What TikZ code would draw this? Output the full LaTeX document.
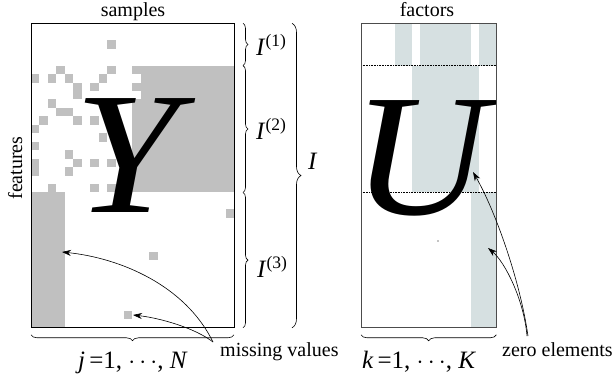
\documentclass[tikz,border=0pt]{standalone}
\usepackage{fontspec}
\setmainfont{Liberation Serif}
\usetikzlibrary{decorations.pathreplacing,arrows.meta}
\definecolor{missgray}{RGB}{192,192,192}
\definecolor{zeroblue}{RGB}{214,224,225}
\tikzset{
  misscell/.style={fill=missgray},
  zerocell/.style={fill=zeroblue},
  bigletter/.style={font=\fontsize{174}{174}\selectfont\itshape, inner sep=0pt, xscale=1.08},
  txt/.style={font=\fontsize{20}{24}\selectfont, inner sep=0pt},
  idxtxt/.style={font=\fontsize{25}{30}\selectfont, inner sep=0pt},
  curly/.style={decorate, decoration={brace, amplitude=#1}, line width=0.6pt},
  curly/.default=5pt,
  pointer/.style={-{Stealth[length=9pt,width=6pt]}, line width=0.6pt},
}

\begin{document}
\begin{tikzpicture}[x=1pt, y=-1pt]
\useasboundingbox (0,0) rectangle (616,379);

% data matrix Y with missing entries
\begin{scope}[shift={(31,23.3)}, x=8.458pt, y=-8.458pt]
\fill[misscell] (13,5) rectangle (24,20);
\fill[misscell] (0,20) rectangle (4,36);
\foreach \c/\r in {9/2, 3/5, 9/5, 12/5, 0/6, 2/6, 4/6, 8/6, 5/7, 7/7, 12/7,
    5/8, 2/9, 12/9, 3/10, 4/10, 12/10, 1/11, 5/11, 7/11, 12/11, 0/12, 12/12,
    8/13, 12/13, 0/14, 12/14, 4/15, 12/15, 0/16, 5/16, 7/16, 9/16, 12/16,
    0/17, 4/17, 12/17, 12/18, 2/19, 7/19, 9/19, 12/19, 23/22, 14/27, 11/34}
  \fill[misscell] (\c,\r) rectangle ++(1,1);
\coordinate (Ytl) at (0,0);
\coordinate (Ytr) at (24,0);
\coordinate (Ybl) at (0,36);
\coordinate (Ybr) at (24,36);
\coordinate (Yr1) at (24,5);
\coordinate (Yr2) at (24,20);
\end{scope}
\node[bigletter, anchor=base west] (Y) at (74,213) {Y};
\draw[line width=0.8pt] (Ytl) rectangle (Ybr);

% factor matrix U with zero elements
\begin{scope}[shift={(361,23.3)}, x=8.458pt, y=-8.458pt]
\fill[zerocell] (4,0) rectangle (6,5);
\fill[zerocell] (7,0) rectangle (13,5);
\fill[zerocell] (14,0) rectangle (16,5);
\fill[zerocell] (6,5) rectangle (14,20);
\fill[zerocell] (13,20) rectangle (16,36);
\draw[densely dotted, line width=0.6pt] (0,5) -- (16,5);
\draw[densely dotted, line width=0.6pt] (0,20) -- (16,20);
\coordinate (Utl) at (0,0);
\coordinate (Ubl) at (0,36);
\coordinate (Ubr) at (16,36);
\end{scope}
\begin{scope}
\clip (Utl) rectangle (Ubr);
\node[bigletter, anchor=base west] (U) at (352,215) {U};
\end{scope}
\fill (438,241) circle (0.6);
\draw[line width=0.8pt, black!70] (Utl) rectangle (Ubr);

% titles
\node[txt, anchor=base] (samples) at (133,17) {samples};
\node[txt, anchor=base] (factors) at (427,17) {factors};
\node[txt, anchor=base, rotate=90] (features) at (22,168) {features};

% row groups
\draw[curly] ([xshift=9pt]Ytr) -- ([xshift=9pt]Yr1);
\draw[curly] ([xshift=9pt]Yr1) -- ([xshift=9pt]Yr2);
\draw[curly] ([xshift=9pt]Yr2) -- ([xshift=9pt]Ybr);
\node[idxtxt, anchor=base west] (I1) at (256,56) {\textit{I}\textsuperscript{(1)}};
\node[idxtxt, anchor=base west] (I2) at (256,140) {\textit{I}\textsuperscript{(2)}};
\node[idxtxt, anchor=base west] (I3) at (257,278) {\textit{I}\textsuperscript{(3)}};
\draw[curly=9pt] ([xshift=58pt]Ytr) -- ([xshift=58pt]Ybr);
\node[idxtxt, anchor=base west] (I) at (308,170) {\textit{I}};

% column ranges
\draw[curly=6pt] ([yshift=-7pt]Ybr) -- ([yshift=-7pt]Ybl);
\draw[curly=6pt] ([yshift=-7pt]Ubr) -- ([yshift=-7pt]Ubl);
\node[idxtxt, anchor=base] (jrange) at (133,368) {\textit{j}\,=1, $\cdots$, \textit{N}};
\node[idxtxt, anchor=base] (krange) at (419,368) {\textit{k}\,=1, $\cdots$, \textit{K}};

% annotations
\node[txt, anchor=base west] (missing) at (220,357) {missing values};
\node[txt, anchor=base west] (zeros) at (502,357) {zero elements};
\coordinate (missfrom) at (213,342);
\coordinate (zerofrom) at (528,336);
\coordinate (missA) at (62,252);
\coordinate (missB) at (133,315);
\coordinate (zeroA) at (473,172);
\coordinate (zeroB) at (488,248);
\draw[pointer] (missfrom) .. controls (185,285) and (120,258) .. (missA);
\draw[pointer] (missfrom) .. controls (195,328) and (160,318) .. (missB);
\draw[pointer] (zerofrom) .. controls (520,280) and (495,210) .. (zeroA);
\draw[pointer] ([xshift=-1pt]zerofrom) .. controls (524,300) and (505,262) .. (zeroB);
\end{tikzpicture}
\end{document}
